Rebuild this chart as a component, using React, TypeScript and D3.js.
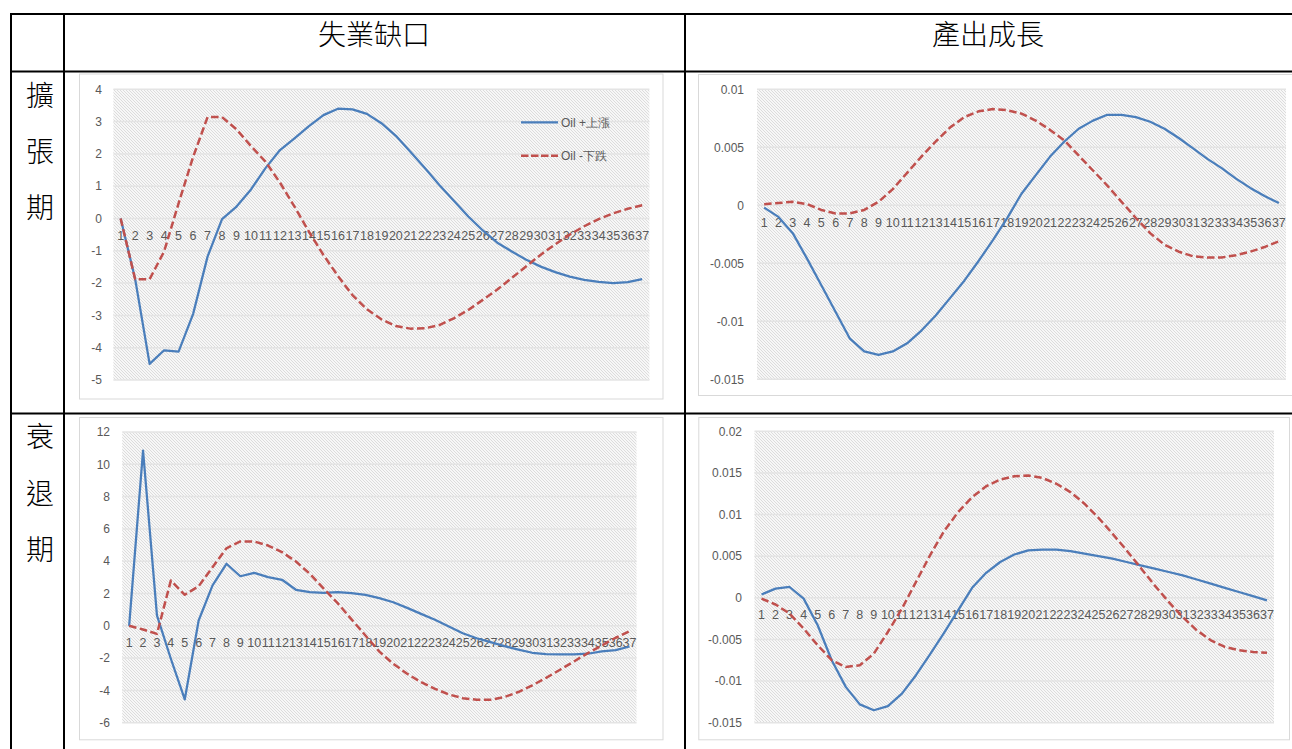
import React from 'react';
import * as d3 from 'd3';

// ---------- data ----------
const categories = ['1','2','3','4','5','6','7','8','9','10','11','12','13','14','15','16','17','18','19','20','21','22','23','24','25','26','27','28','29','30','31','32','33','34','35','36','37'];

const seriesNames = ['Oil +上漲', 'Oil -下跌'];
const columnTitles = ['失業缺口', '產出成長'];
const rowTitles = ['擴張期', '衰退期'];

// 擴張期 失業缺口
const expUnempUp = [0, -1.87, -4.5, -4.08, -4.12, -2.96, -1.18, -0.02, 0.37, 0.9, 1.56, 2.12, 2.48, 2.86, 3.2, 3.4, 3.38, 3.24, 2.95, 2.56, 2.07, 1.56, 1.04, 0.55, 0.06, -0.37, -0.75, -1.02, -1.28, -1.49, -1.66, -1.8, -1.9, -1.96, -2.0, -1.97, -1.88];
const expUnempDown = [0, -1.88, -1.88, -1.02, 0.47, 1.9, 3.14, 3.14, 2.76, 2.24, 1.76, 1.11, 0.37, -0.41, -1.13, -1.78, -2.37, -2.81, -3.12, -3.33, -3.41, -3.4, -3.3, -3.09, -2.83, -2.52, -2.2, -1.84, -1.48, -1.12, -0.8, -0.5, -0.24, -0.02, 0.16, 0.3, 0.41];

// 擴張期 產出成長
const expGrowthUp = [-0.0002, -0.001, -0.0024, -0.0046, -0.0069, -0.0092, -0.0115, -0.0126, -0.0129, -0.0126, -0.0119, -0.0108, -0.0095, -0.008, -0.0065, -0.0048, -0.003, -0.0011, 0.001, 0.0026, 0.0042, 0.0055, 0.0066, 0.0073, 0.0078, 0.0078, 0.0076, 0.0072, 0.0066, 0.0058, 0.0049, 0.004, 0.0032, 0.0023, 0.0015, 0.0008, 0.0002];
const expGrowthDown = [0.0001, 0.0002, 0.0003, 0.0001, -0.0004, -0.0007, -0.0007, -0.0004, 0.0003, 0.0014, 0.0028, 0.0042, 0.0055, 0.0067, 0.0076, 0.0081, 0.0083, 0.0082, 0.0079, 0.0073, 0.0065, 0.0056, 0.0043, 0.003, 0.0017, 0.0003, -0.0011, -0.0024, -0.0034, -0.004, -0.0044, -0.0045, -0.0045, -0.0043, -0.004, -0.0036, -0.0031];

// 衰退期 失業缺口
const recUnempUp = [0, 10.85, 0.64, -2.04, -4.56, 0.33, 2.5, 3.84, 3.07, 3.28, 3.01, 2.85, 2.23, 2.08, 2.04, 2.08, 2.02, 1.92, 1.71, 1.46, 1.11, 0.74, 0.37, -0.04, -0.46, -0.77, -1.01, -1.26, -1.47, -1.67, -1.75, -1.77, -1.77, -1.73, -1.59, -1.51, -1.28];
const recUnempDown = [0, -0.23, -0.5, 2.8, 1.92, 2.45, 3.63, 4.8, 5.22, 5.22, 4.97, 4.56, 3.98, 3.22, 2.3, 1.4, 0.4, -0.6, -1.6, -2.35, -2.97, -3.49, -3.9, -4.25, -4.48, -4.58, -4.58, -4.41, -4.1, -3.69, -3.22, -2.72, -2.21, -1.69, -1.22, -0.74, -0.33];

// 衰退期 產出成長
const recGrowthUp = [0.0004, 0.0011, 0.0013, -0.0001, -0.0033, -0.0075, -0.0107, -0.0128, -0.0135, -0.013, -0.0115, -0.0093, -0.0068, -0.0042, -0.0015, 0.0012, 0.003, 0.0043, 0.0052, 0.0057, 0.0058, 0.0058, 0.0056, 0.0053, 0.005, 0.0047, 0.0043, 0.0039, 0.0035, 0.0031, 0.0027, 0.0022, 0.0017, 0.0012, 0.0007, 0.0002, -0.0003];
const recGrowthDown = [-0.0001, -0.0008, -0.0019, -0.0037, -0.0057, -0.0075, -0.0083, -0.0081, -0.0067, -0.0041, -0.0013, 0.0019, 0.0051, 0.008, 0.0103, 0.0121, 0.0134, 0.0142, 0.0146, 0.0147, 0.0144, 0.0137, 0.0127, 0.0113, 0.0096, 0.0077, 0.0057, 0.0036, 0.0015, -0.0005, -0.0023, -0.0039, -0.0051, -0.0059, -0.0063, -0.0065, -0.0066];

const unempExpTicks = [4, 3, 2, 1, 0, -1, -2, -3, -4, -5];
const growthExpTicks = [0.01, 0.005, 0, -0.005, -0.01, -0.015];
const unempRecTicks = [12, 10, 8, 6, 4, 2, 0, -2, -4, -6];
const growthRecTicks = [0.02, 0.015, 0.01, 0.005, 0, -0.005, -0.01, -0.015];

// ---------- styling ----------
const BLUE = '#4a7ebb';
const RED = '#c0504d';
const LABEL = '#595959';
const FONT = '"Liberation Sans", Arial, sans-serif';
const CJK = '"Noto Sans CJK TC", "Noto Sans CJK SC", sans-serif';

type Rect = { x0: number; x1: number; y0: number; y1: number };

function Chart(props: {
  id: string;
  box: Rect;
  plot: Rect;
  ticks: number[];
  labelRight: number;
  up: number[];
  down: number[];
  legend?: boolean;
}) {
  const { id, box, plot, ticks, labelRight, up, down, legend } = props;
  const x = d3.scaleBand<string>().domain(categories).range([plot.x0, plot.x1]).padding(0);
  const y = d3
    .scaleLinear()
    .domain([d3.min(ticks) as number, d3.max(ticks) as number])
    .range([plot.y1, plot.y0]);
  const cx = (i: number) => (x(categories[i]) as number) + x.bandwidth() / 2;
  const line = d3
    .line<number>()
    .x((_, i) => cx(i))
    .y((d) => y(d));
  const y0 = y(0);
  return (
    <g>
      <rect
        x={box.x0 + 0.5}
        y={box.y0 + 0.5}
        width={box.x1 - box.x0}
        height={box.y1 - box.y0}
        fill="#ffffff"
        stroke="#d9d9d9"
        strokeWidth={1}
      />
      <rect
        x={plot.x0}
        y={plot.y0}
        width={plot.x1 - plot.x0}
        height={plot.y1 - plot.y0}
        fill={`url(#${id})`}
      />
      {ticks.map((t) => (
        <line
          key={'g' + t}
          x1={plot.x0}
          x2={plot.x1}
          y1={y(t)}
          y2={y(t)}
          stroke="#e4e4e4"
          strokeWidth={1.5}
        />
      ))}
      {ticks.map((t) => (
        <text
          key={'t' + t}
          x={labelRight}
          y={y(t)}
          dy="0.35em"
          textAnchor="end"
          fontFamily={FONT}
          fontSize={12}
          fill={LABEL}
        >
          {String(t)}
        </text>
      ))}
      {categories.map((c, i) => (
        <text
          key={'c' + c}
          x={cx(i)}
          y={y0 + 17}
          dy="0.35em"
          textAnchor="middle"
          fontFamily={FONT}
          fontSize={12.5}
          fill={LABEL}
        >
          {c}
        </text>
      ))}
      <path d={line(up) as string} fill="none" stroke={BLUE} strokeWidth={2.25} strokeLinejoin="round" />
      <path
        d={line(down) as string}
        fill="none"
        stroke={RED}
        strokeWidth={2.5}
        strokeDasharray="7.5,3.5"
        strokeLinejoin="round"
      />
      {legend && (
        <g>
          <line x1={521} x2={558} y1={122.3} y2={122.3} stroke={BLUE} strokeWidth={2.25} />
          <text x={561} y={122.3} dy="0.35em" fontFamily={FONT} fontSize={12} fill={LABEL}>
            {seriesNames[0]}
          </text>
          <line
            x1={521}
            x2={558}
            y1={155.7}
            y2={155.7}
            stroke={RED}
            strokeWidth={2.5}
            strokeDasharray="7.5,2.5"
          />
          <text x={561} y={155.7} dy="0.35em" fontFamily={FONT} fontSize={12} fill={LABEL}>
            {seriesNames[1]}
          </text>
        </g>
      )}
    </g>
  );
}

export default function App() {
  const W = 1292;
  const H = 749;
  const rowChars = [
    { text: rowTitles[0], ys: [96, 152, 208] },
    { text: rowTitles[1], ys: [437, 494, 550] },
  ];
  return (
    <svg
      width={W}
      height={H}
      viewBox={`0 0 ${W} ${H}`}
      style={{ position: 'absolute', left: 0, top: 0, display: 'block', background: '#ffffff' }}
    >
      <defs>
        {['p1', 'p2', 'p3', 'p4'].map((pid) => (
          <pattern key={pid} id={pid} patternUnits="userSpaceOnUse" width={3} height={3}>
            <rect width={3} height={3} fill="#f7f7f7" />
            <path d="M-1,-1 L4,4 M2,-1 L4,1 M-1,2 L1,4" stroke="#d6d6d6" strokeWidth={0.8} />
          </pattern>
        ))}
      </defs>
      <rect width={W} height={H} fill="#ffffff" />

      <Chart
        id="p1"
        box={{ x0: 79, x1: 662.5, y0: 73.5, y1: 398.5 }}
        plot={{ x0: 113.4, x1: 649.4, y0: 89.3, y1: 380 }}
        ticks={unempExpTicks}
        labelRight={102}
        up={expUnempUp}
        down={expUnempDown}
        legend
      />
      <Chart
        id="p2"
        box={{ x0: 698, x1: 1300, y0: 74, y1: 395 }}
        plot={{ x0: 757, x1: 1286, y0: 89.3, y1: 379.3 }}
        ticks={growthExpTicks}
        labelRight={744}
        up={expGrowthUp}
        down={expGrowthDown}
      />
      <Chart
        id="p3"
        box={{ x0: 79, x1: 662.5, y0: 417, y1: 739.3 }}
        plot={{ x0: 122.2, x1: 636.5, y0: 432, y1: 722.7 }}
        ticks={unempRecTicks}
        labelRight={110}
        up={recUnempUp}
        down={recUnempDown}
      />
      <Chart
        id="p4"
        box={{ x0: 698.3, x1: 1289, y0: 417, y1: 739.3 }}
        plot={{ x0: 754.5, x1: 1274, y0: 431.3, y1: 722.7 }}
        ticks={growthRecTicks}
        labelRight={742}
        up={recGrowthUp}
        down={recGrowthDown}
      />

      {/* table grid */}
      <g stroke="#000000" strokeWidth={2}>
        <line x1={10} x2={W} y1={14} y2={14} />
        <line x1={10} x2={W} y1={71.5} y2={71.5} />
        <line x1={10} x2={W} y1={413.5} y2={413.5} />
        <line x1={11} x2={11} y1={13} y2={H} />
        <line x1={64} x2={64} y1={13} y2={H} />
        <line x1={685} x2={685} y1={13} y2={H} />
      </g>

      {/* headers */}
      <text x={374} y={35} dy="0.36em" textAnchor="middle" fontFamily={CJK} fontWeight={300} fontSize={28} fill="#000">
        {columnTitles[0]}
      </text>
      <text x={988} y={35} dy="0.36em" textAnchor="middle" fontFamily={CJK} fontWeight={300} fontSize={28} fill="#000">
        {columnTitles[1]}
      </text>
      {rowChars.map((r, ri) =>
        Array.from(r.text).map((ch, ci) => (
          <text
            key={ri + '-' + ci}
            x={40}
            y={r.ys[ci]}
            dy="0.36em"
            textAnchor="middle"
            fontFamily={CJK}
            fontWeight={300}
            fontSize={28}
            fill="#000"
          >
            {ch}
          </text>
        ))
      )}
    </svg>
  );
}
